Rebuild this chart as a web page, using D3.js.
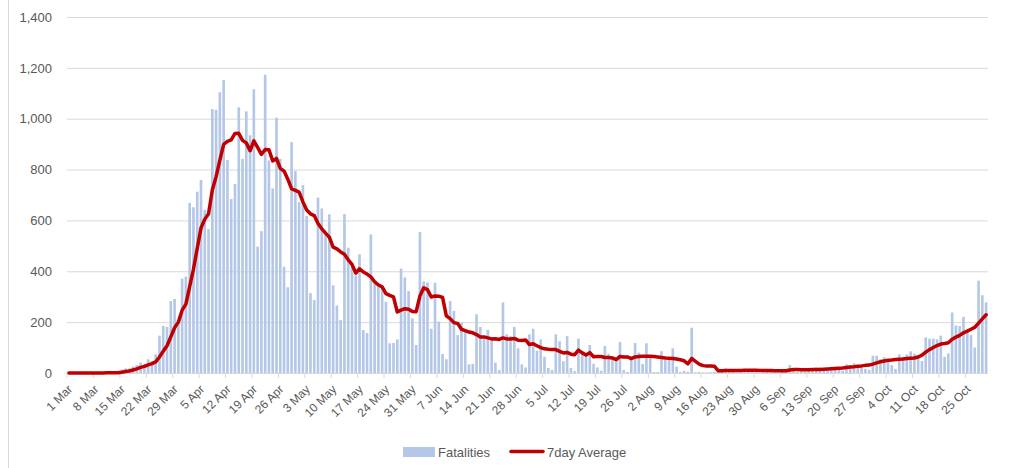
<!DOCTYPE html>
<html><head><meta charset="utf-8">
<script src="https://cdn.jsdelivr.net/npm/d3@7"></script>
<style>body{margin:0;background:#fff;} svg{display:block;font-family:"Liberation Sans",Arial,sans-serif;}</style>
</head><body><svg id="c" width="1012" height="468"></svg>
<script>
// Daily fatalities, 1 Mar – 30 Oct
const mar=[0,0,0,0,1,0,1,0,1,0,2,0,2,4,14,18,18,26,31,41,36,54,46,73,147,185,181,283,291,209,371];
const apr=[379,669,652,713,759,641,566,1038,1035,1104,1152,838,684,743,1045,842,1029,935,1116,497,558,1173,836,726,1004,842,418,337,908,794];
const may=[672,739,618,314,287,690,647,556,624,345,265,208,625,493,431,383,467,169,157,545,359,340,334,280,117,118,132,411,376,322,215];
const jun=[110,554,360,356,174,355,202,75,54,283,244,149,198,165,34,36,231,181,146,170,140,41,12,278,152,145,181,97,34,22];
const jul=[152,174,88,132,64,20,12,152,125,46,145,20,7,135,75,67,110,36,22,9,106,75,58,62,122,12,4,65,118,80,36];
const aug=[117,71,4,4,86,51,51,97,25,4,8,5,178,3,4,2,2,3,4,12,12,18,5,8,2,3,16,12,10,6,1];
const sep=[3,10,12,2,1,14,8,31,9,4,6,5,20,19,22,22,12,18,25,25,18,9,34,31,38,31,22,16,12,68];
const oct=[68,54,62,48,31,16,73,64,73,85,76,64,47,140,135,135,132,147,64,77,238,187,185,221,169,149,100,363,306,278];

// 7day average
const avgMar=[0,0,0,0,0,0,0,0,0,0,1,1,1,1,3,6,8,12,16,22,26,32,37,44,63,86,107,142,178,200,247];
const avgApr=[271,340,408,490,570,605,626,720,772,837,899,911,917,942,943,915,905,874,913,887,860,879,878,834,844,805,794,762,724,718];
const avgMay=[711,673,641,626,619,588,567,550,534,495,488,476,467,445,427,393,410,397,389,378,359,346,339,312,305,299,240,247,253,251,242];
const avgJun=[241,303,335,328,299,303,302,297,225,214,198,195,172,167,161,158,151,142,142,138,134,135,132,138,134,134,136,129,128,130];
const avgJul=[112,115,107,100,95,93,92,92,85,79,81,74,72,90,79,71,80,64,65,65,61,61,59,53,65,63,63,57,63,65,66];
const avgAug=[66,66,65,63,61,59,58,57,55,52,48,36,57,46,35,29,28,28,27,9,9,10,10,10,10,10,11,11,11,11,10];
const avgSep=[10,10,10,9,9,9,9,12,14,14,13,13,13,14,14,14,15,16,17,18,19,20,22,24,25,27,28,30,31,35];
const avgOct=[40,44,47,50,51,53,54,55,57,58,59,63,70,82,92,100,108,114,116,119,133,141,148,158,165,172,180,196,213,229];

const tickLabels=["1 Mar","8 Mar","15 Mar","22 Mar","29 Mar","5 Apr","12 Apr","19 Apr","26 Apr","3 May","10 May","17 May","24 May","31 May","7 Jun","14 Jun","21 Jun","28 Jun","5 Jul","12 Jul","19 Jul","26 Jul","2 Aug","9 Aug","16 Aug","23 Aug","30 Aug","6 Sep","13 Sep","20 Sep","27 Sep","4 Oct","11 Oct","18 Oct","25 Oct"];
const yTicks=[0,200,400,600,800,1000,1200,1400];

const fatalities=[].concat(mar,apr,may,jun,jul,aug,sep,oct);
const average=[].concat(avgMar,avgApr,avgMay,avgJun,avgJul,avgAug,avgSep,avgOct);
const idx=d3.range(fatalities.length);

const svg=d3.select('#c');
const L=67,R=988,T=17,B=373;
const x=d3.scaleBand().domain(idx).range([L,R]).paddingInner(0.3).paddingOuter(0.15);
const y=d3.scaleLinear().domain([0,1400]).range([B,T]);
const step=x.step();
const tickX=i=>x(i)+x.bandwidth()/2-step/2;

// chart border (left edge)
svg.append('line').attr('x1',8.5).attr('x2',8.5).attr('y1',0).attr('y2',468).attr('stroke','#d9d9d9');

// gridlines + y labels
const ya=svg.append('g').attr('transform',`translate(${L},0)`)
  .call(d3.axisLeft(y).tickValues(yTicks).tickFormat(d3.format(',')).tickSize(-(R-L)).tickPadding(15));
ya.select('.domain').remove();
ya.selectAll('.tick line').attr('stroke','#d9d9d9').attr('stroke-width',1);
ya.selectAll('.tick text').attr('fill','#595959').style('font-size','13px').style('font-family','"Liberation Sans",Arial,sans-serif');

// bars
svg.append('g').selectAll('rect').data(idx).join('rect')
  .attr('x',i=>x(i)).attr('width',x.bandwidth())
  .attr('y',i=>y(fatalities[i])).attr('height',i=>B-y(fatalities[i]))
  .attr('fill','#b4c7e7');

// x axis
svg.append('line').attr('x1',L).attr('x2',R).attr('y1',B+0.5).attr('y2',B+0.5).attr('stroke','#d9d9d9');
const tg=svg.append('g');
tickLabels.forEach((lab,k)=>{
  const tx=tickX(k*7);
  tg.append('line').attr('x1',tx).attr('x2',tx).attr('y1',B).attr('y2',B+5).attr('stroke','#d9d9d9');
  tg.append('text').attr('transform',`translate(${tx+6},${B+17}) rotate(-45)`)
    .attr('text-anchor','end').attr('fill','#595959').style('font-size','12px').text(lab);
});

// 7day average line
const line=d3.line().x(i=>x(i)+x.bandwidth()/2).y(i=>y(average[i]));
svg.append('path').datum(idx).attr('d',line).attr('fill','none')
  .attr('stroke','#c00000').attr('stroke-width',3.5).attr('stroke-linejoin','round').attr('stroke-linecap','round');

// legend
const lg=svg.append('g');
lg.append('rect').attr('x',403).attr('y',447).attr('width',32).attr('height',10).attr('fill','#b4c7e7');
lg.append('text').attr('x',438).attr('y',456.5).attr('fill','#595959').style('font-size','13px').text('Fatalities');
lg.append('line').attr('x1',511).attr('x2',543).attr('y1',451.5).attr('y2',451.5).attr('stroke','#c00000').attr('stroke-width',3.5).attr('stroke-linecap','round');
lg.append('text').attr('x',547).attr('y',456.5).attr('fill','#595959').style('font-size','13px').text('7day Average');
</script></body></html>
